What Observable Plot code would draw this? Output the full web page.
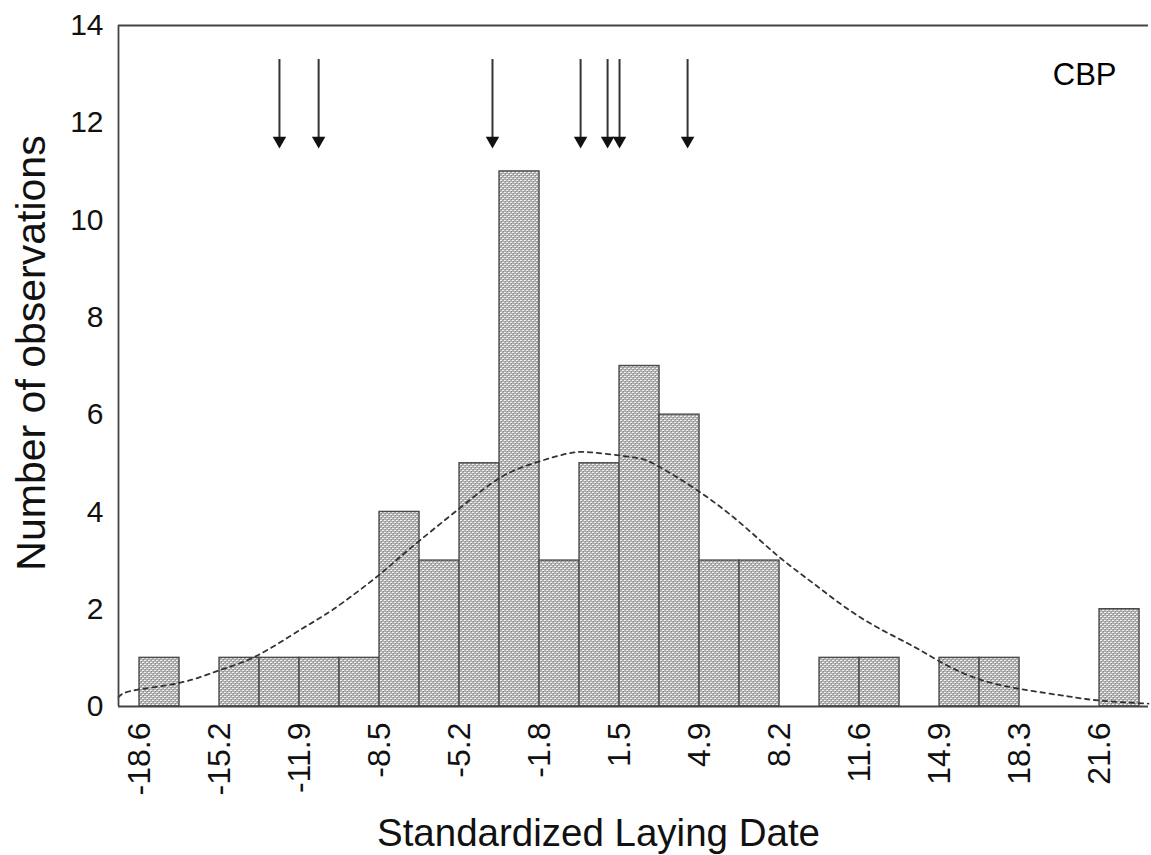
<!DOCTYPE html>
<html>
<head>
<meta charset="utf-8">
<script src="https://cdn.jsdelivr.net/npm/d3@7"></script>
<script src="https://cdn.jsdelivr.net/npm/@observablehq/plot@0.6"></script>
<style>
  html, body { margin: 0; padding: 0; background: #fff; }
</style>
</head>
<body>
<div id="chart"></div>
<script>
// Histogram bins (lower edges + final upper edge) and counts
const binEdges = [-18.6, -16.925, -15.25, -13.575, -11.9, -10.225, -8.55, -6.875, -5.2, -3.525,
  -1.85, -0.175, 1.5, 3.175, 4.85, 6.525, 8.2, 9.875, 11.55, 13.225, 14.9, 16.575, 18.25, 19.925, 21.6, 23.275];
const counts = [1, 0, 1, 1, 1, 1, 4, 3, 5, 11, 3, 5, 7, 6, 3, 3, 0, 1, 1, 0, 1, 1, 0, 0, 2];

// X tick positions and labels
const xTickValues = [-18.6, -15.25, -11.9, -8.55, -5.2, -1.85, 1.5, 4.85, 8.2, 11.55, 14.9, 18.25, 21.6];
const xTickLabels = ["-18.6", "-15.2", "-11.9", "-8.5", "-5.2", "-1.8", "1.5", "4.9", "8.2", "11.6", "14.9", "18.3", "21.6"];
const yTickValues = [0, 2, 4, 6, 8, 10, 12, 14];
const xDomain = [-19.48, 23.65];
const yDomain = [0, 14];

// Fitted normal curve
const curveX = [-19.48, -18.85, -16.88, -15.29, -13.74, -11.86, -10.48, -8.63, -7.34, -5.16, -3.48, -2.10,
  -0.68, 0.41, 2.09, 3.09, 4.77, 6.54, 8.12, 9.62, 11.59, 13.56, 14.82, 16.32, 18.17, 20.26, 21.64, 23.65];
const curveY = [0.19, 0.33, 0.49, 0.74, 1.03, 1.58, 2.00, 2.68, 3.22, 4.09, 4.71, 5.00,
  5.20, 5.22, 5.12, 4.95, 4.44, 3.78, 3.10, 2.53, 1.83, 1.30, 0.95, 0.60, 0.37, 0.21, 0.12, 0.06];

// Arrows (individual values) at the top
const arrowX = [-12.74, -11.10, -3.82, -0.13, 1.00, 1.50, 4.35];
const arrowTop = 13.30;
const arrowTip = 11.53;

const bins = counts.map((c, i) => ({x1: binEdges[i], x2: binEdges[i + 1], count: c})).filter(d => d.count > 0);
const curve = curveX.map((x, i) => ({x, y: curveY[i]}));
const labelMap = new Map(xTickValues.map((v, i) => [v, xTickLabels[i]]));

const font = "'Liberation Sans', Arial, Helvetica, sans-serif";

const plot = Plot.plot({
  width: 1151,
  height: 855,
  marginLeft: 118,
  marginRight: 3,
  marginTop: 25,
  marginBottom: 149,
  style: {fontFamily: font, background: "#fff", color: "#111", overflow: "visible"},
  x: {domain: xDomain},
  y: {domain: yDomain},
  marks: [
    Plot.rectY(bins, {x1: "x1", x2: "x2", y1: d => 0, y2: "count", fill: "url(#hatch)", stroke: "#4a4a4a", strokeWidth: 1.4}),
    Plot.line(curve, {x: "x", y: "y", curve: "natural", stroke: "#333", strokeWidth: 1.8, strokeDasharray: "4.5,4.5"}),
    Plot.ruleY([yDomain[0], yDomain[1]], {stroke: "#444", strokeWidth: 1.8}),
    Plot.ruleX([xDomain[0]], {stroke: "#444", strokeWidth: 1.8}),
    Plot.ruleX(arrowX, {x: d => d, y1: d => arrowTop, y2: d => arrowTip, stroke: "#333", strokeWidth: 2}),
    Plot.dot(arrowX, {x: d => d, y: d => arrowTip, symbol: "triangle", rotate: 180, r: 5, fill: "#111", dy: -5}),
    Plot.axisY({ticks: yTickValues, tickSize: 0, tickPadding: 15, fontSize: 30, label: null}),
    Plot.axisX({ticks: xTickValues, tickFormat: d => labelMap.get(d), tickSize: 0, tickPadding: 16, tickRotate: -90, fontSize: 32, label: null}),
    Plot.text(["Standardized Laying Date"], {frameAnchor: "bottom", dx: -35, dy: 139, lineAnchor: "bottom", fontSize: 38.5, fill: "#111"}),
    Plot.text(["Number of observations"], {frameAnchor: "left", dx: -87, dy: -13, rotate: -90, textAnchor: "middle", lineAnchor: "middle", fontSize: 41, fill: "#111"}),
    Plot.text(["CBP"], {frameAnchor: "top-right", dx: -32, dy: 37, textAnchor: "end", lineAnchor: "top", fontSize: 31, fill: "#000"})
  ]
});

// Cross-hatched fill pattern for the bars
const svg = plot.tagName.toLowerCase() === "svg" ? plot : plot.querySelector("svg");
const defs = d3.select(svg).insert("defs", ":first-child");
const pat = defs.append("pattern").attr("id", "hatch").attr("patternUnits", "userSpaceOnUse").attr("width", 4).attr("height", 4);
pat.append("rect").attr("width", 4).attr("height", 4).attr("fill", "#b0b0b0");
pat.append("rect").attr("x", 0).attr("y", 0).attr("width", 2).attr("height", 1).attr("fill", "#f2f2f2");
pat.append("rect").attr("x", 2).attr("y", 2).attr("width", 2).attr("height", 1).attr("fill", "#f2f2f2");
pat.append("rect").attr("x", 1).attr("y", 1).attr("width", 1).attr("height", 1).attr("fill", "#858585");
pat.append("rect").attr("x", 3).attr("y", 3).attr("width", 1).attr("height", 1).attr("fill", "#858585");

document.getElementById("chart").appendChild(plot);
</script>
</body>
</html>
